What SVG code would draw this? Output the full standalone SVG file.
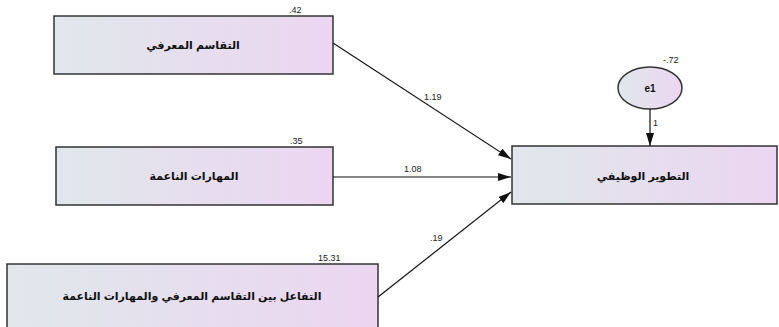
<svg xmlns="http://www.w3.org/2000/svg" width="779" height="327" viewBox="0 0 779 327">
<style>
.box{stroke:#333;stroke-width:1.5;fill:url(#g)}
.lbl{font-family:"Liberation Sans","DejaVu Sans",sans-serif;font-size:11px;font-weight:bold;fill:#111;text-anchor:middle;dominant-baseline:central}
.num{font-family:"Liberation Sans",Arial,sans-serif;font-size:9px;fill:#222}
.con line{stroke:#111;stroke-width:1.2;marker-end:url(#ah)}
</style>
<defs>
<linearGradient id="g" x1="0" y1="0" x2="1" y2="0">
<stop offset="0" stop-color="#e0e7eb"/>
<stop offset="1" stop-color="#ecd6f1"/>
</linearGradient>
<marker id="ah" viewBox="0 0 13 8" refX="13" refY="4" markerWidth="13" markerHeight="8" markerUnits="userSpaceOnUse" orient="auto">
<path d="M0,0 L13,4 L0,8 Z" fill="#111"/>
</marker>
</defs>
<rect width="779" height="327" fill="#fff"/>
<g id="n1">
<rect class="box" x="54" y="16" width="279" height="58"/>
<text class="lbl" x="193" y="45">التقاسم المعرفي</text>
<text class="num" x="289" y="13">.42</text>
</g>
<g id="n2">
<rect class="box" x="56" y="147" width="277" height="58"/>
<text class="lbl" x="194" y="176">المهارات الناعمة</text>
<text class="num" x="290" y="144">.35</text>
</g>
<g id="n3">
<rect class="box" x="7" y="264" width="371" height="75"/>
<text class="lbl" x="192" y="296">التفاعل بين التقاسم المعرفي والمهارات الناعمة</text>
<text class="num" x="318" y="261">15.31</text>
</g>
<g id="n4">
<rect class="box" x="512" y="146" width="265" height="58"/>
<text class="lbl" x="643" y="176">التطوير الوظيفي</text>
</g>
<g id="e1">
<ellipse cx="650" cy="88" rx="32" ry="21" style="stroke:#333;stroke-width:1.5;fill:url(#g)"/>
<text class="lbl" x="650" y="88" style="font-size:10px">e1</text>
<text class="num" x="663" y="63">-.72</text>
</g>
<g class="con" id="connectors">
<line x1="333" y1="43" x2="511" y2="159"/>
<line x1="333" y1="177" x2="511" y2="177"/>
<line x1="378" y1="297" x2="511" y2="192"/>
<line x1="650" y1="109" x2="650" y2="146"/>
<text class="num" x="424" y="100">1.19</text>
<text class="num" x="404" y="172">1.08</text>
<text class="num" x="430" y="241">.19</text>
<text class="num" x="653" y="126">1</text>
</g>
</svg>
